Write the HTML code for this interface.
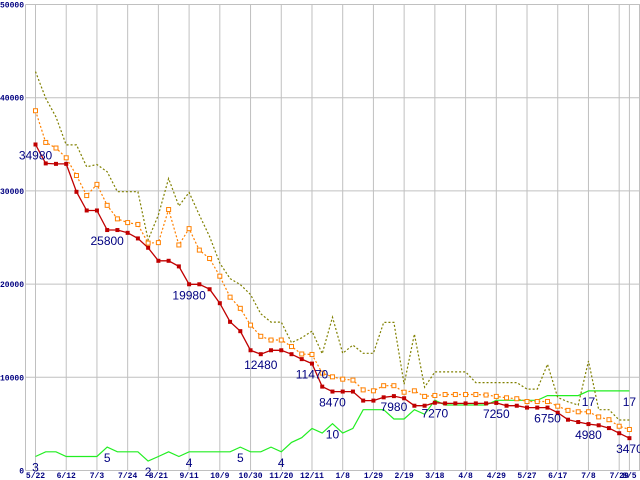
<!DOCTYPE html>
<html><head><meta charset="utf-8"><style>
html,body{margin:0;padding:0;background:#fff;}
svg{display:block;}
text{font-family:"Liberation Sans",sans-serif;}
.ax{font-family:"Liberation Mono",monospace;font-size:8px;fill:#000080;font-weight:bold;}
.lb{font-size:12px;fill:#000080;}
</style></head><body>
<svg id="chart" width="640" height="480" viewBox="0 0 640 480" xmlns="http://www.w3.org/2000/svg">
<g id="grid"></g>
<g id="series"></g>
<g id="labels"></g>
</svg>
<script>
const xTickIdx=[0,3,6,9,12,15,18,21,24,27,30,33,36,39,42,45,48,51,54,57,58];
const xTickLabels=["5/22","6/12","7/3","7/24","8/21","9/11","10/9","10/30","11/20","12/11","1/8","1/29","2/19","3/18","4/8","4/29","5/27","6/17","7/8","7/29","8/5"];
const yTicks=[0,10000,20000,30000,40000,50000];
const minPrice=[34980,32950,32900,32900,29900,27900,27900,25800,25800,25500,24900,23900,22500,22500,21900,19980,19980,19450,17950,15950,14950,12900,12480,12900,12900,12480,11950,11470,9000,8470,8470,8470,7500,7500,7850,7980,7750,6950,6950,7270,7200,7200,7200,7200,7200,7250,6950,6950,6750,6750,6750,6200,5450,5200,4980,4850,4550,4000,3470];
const avgPrice=[38600,35200,34600,33550,31650,29500,30700,28450,27000,26600,26400,24400,24450,28000,24200,25950,23650,22750,20850,18600,17400,15600,14400,14000,14000,13300,12500,12450,10450,10050,9800,9700,8650,8550,9100,9100,8400,8550,7950,8050,8150,8150,8150,8150,8100,7950,7800,7700,7400,7400,7400,6900,6450,6300,6300,5750,5450,4750,4400];
const maxPrice=[42800,39950,37930,34940,34940,32590,32830,32050,29910,29910,29910,24750,27420,31330,28380,29840,27420,25100,22250,20590,19950,18880,16810,15920,15920,13710,14240,14960,12530,16450,12570,13460,12570,12570,15890,15890,9260,14640,8940,10580,10580,10580,10580,9430,9430,9430,9430,9430,8730,8730,11400,7830,7370,7020,11750,6520,6520,5420,5420];
const shopCount=[3,4,4,3,3,3,3,5,4,4,4,2,3,4,3,4,4,4,4,4,5,4,4,5,4,6,7,9,8,10,8,9,13,13,13,11,11,13,12,15,14,14,14,14,14,15,15,15,15,15,16,16,16,16,17,17,17,17,17];
const priceLabelIdx=[0,7,15,22,27,29,35,39,45,50,54,58];
const countLabelIdx=[0,7,11,15,20,24,29,54,58];

const NS="http://www.w3.org/2000/svg";
const X0=35.5,DX=10.24,Y0=470.5,YT=4.5;
function xs(i){return X0+i*DX;}
function yp(v){return Y0-(v/50000)*(Y0-YT);}
function yc(v){return Y0-v*4.68;}
function mk(tag,attrs,parent){const e=document.createElementNS(NS,tag);for(const k in attrs)e.setAttribute(k,attrs[k]);parent.appendChild(e);return e;}
const grid=document.getElementById('grid'),ser=document.getElementById('series'),lab=document.getElementById('labels');

yTicks.forEach(v=>{
  const l=mk('line',{x1:25.5,x2:640,y1:yp(v),y2:yp(v),stroke:'#c0c0c0','stroke-width':1},grid);
  
  
  const t=mk('text',{x:24,y:yp(v)+3,'text-anchor':'end',class:'ax'},grid);
  t.textContent=String(v);
  
  
});
const la=mk('line',{x1:25.5,x2:25.5,y1:YT,y2:Y0,stroke:'#c0c0c0','stroke-width':1},grid);


const ra=mk('line',{x1:639.5,x2:639.5,y1:YT,y2:Y0,stroke:'#c0c0c0','stroke-width':1},grid);


xTickIdx.forEach((idx,k)=>{
  const l=mk('line',{x1:xs(idx),x2:xs(idx),y1:YT,y2:Y0,stroke:'#c0c0c0','stroke-width':1},grid);
  
  
  const t=mk('text',{x:xs(idx),y:478,'text-anchor':'middle',class:'ax'},grid);
  t.textContent=xTickLabels[k];
  
  
});

function pts(arr,f){return arr.map((v,i)=>xs(i).toFixed(1)+','+f(v).toFixed(1)).join(' ');}
const gl=mk('polyline',{points:pts(shopCount,yc),fill:'none',stroke:'#22ee22','stroke-width':1.2},ser);


const ml=mk('polyline',{points:pts(maxPrice,yp),fill:'none',stroke:'#808000','stroke-width':1.2,'stroke-dasharray':'2,2'},ser);


const al=mk('polyline',{points:pts(avgPrice,yp),fill:'none',stroke:'#ff8000','stroke-width':1.2,'stroke-dasharray':'2,2'},ser);


avgPrice.forEach((v,i)=>{
  const r=mk('rect',{x:xs(i)-2,y:yp(v)-2,width:4,height:4,fill:'#fff',stroke:'#ff8000','stroke-width':1},ser);
  
  
});
const rl=mk('polyline',{points:pts(minPrice,yp),fill:'none',stroke:'#c00000','stroke-width':1.3},ser);


minPrice.forEach((v,i)=>{
  const r=mk('rect',{x:xs(i)-2,y:yp(v)-2,width:4,height:4,fill:'#c00000'},ser);
  
  
});
priceLabelIdx.forEach(i=>{
  const t=mk('text',{x:xs(i),y:yp(minPrice[i])+15,'text-anchor':'middle',class:'lb'},lab);
  t.textContent=String(minPrice[i]);
  
  
});
countLabelIdx.forEach(i=>{
  const t=mk('text',{x:xs(i),y:yc(shopCount[i])+15,'text-anchor':'middle',class:'lb'},lab);
  t.textContent=String(shopCount[i]);
  
  
});
</script>
</body></html>
